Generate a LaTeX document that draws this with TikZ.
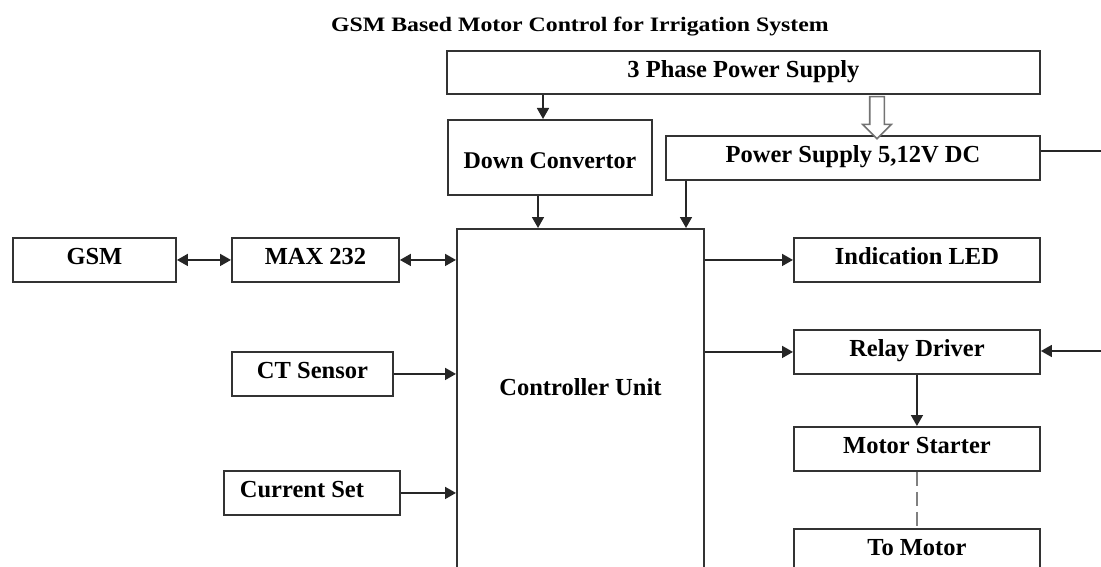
\documentclass[tikz,border=0pt]{standalone}
\usepackage{fontspec}
\setmainfont{Liberation Serif}
\usetikzlibrary{positioning, arrows.meta, shapes.arrows, calc}

\begin{document}
\begin{tikzpicture}[
    x=1pt, y=-1pt,
    every node/.style={font=\fontsize{24.5}{28}\selectfont\bfseries},
    blk/.style={draw=black!80, line width=1.9pt, minimum height=44pt, inner sep=0pt, text height=16pt, text depth=6pt, anchor=north west},
    arrow/.style={-{Triangle[length=11pt, width=12pt]}, line width=1.7pt, black!85},
    darrow/.style={{Triangle[length=11pt, width=12pt]}-{Triangle[length=11pt, width=12pt]}, line width=1.7pt, black!85},
    wire/.style={line width=1.7pt, black!85},
    hollow/.style={single arrow, draw=black!55, fill=white, line width=1.6pt, shape border rotate=270, minimum height=42pt, inner sep=6.5pt, single arrow head extend=7pt},
  ]
  \useasboundingbox (0,0) rectangle (1101,567);
  \clip (0,0) rectangle (1101,567);

  % ---- Title ----
  \node[font=\fontsize{20.5}{24}\selectfont\bfseries, xscale=1.16] (title) at (580,27) {GSM Based Motor Control for Irrigation System};

  % ---- Supply ----
  \node[blk, minimum width=593pt, minimum height=43pt] (ph3) at (446,50) {3 Phase Power Supply};
  \node[blk, minimum width=204pt, minimum height=75pt, font=\fontsize{24}{28}\selectfont\bfseries] (down) at (447,119) {\raisebox{-6pt}{Down Convertor}};
  \node[blk, minimum width=374pt] (psu) at (665,135) {Power Supply 5,12V DC};
  \node[hollow] (conv) at (877,114) {};

  % ---- Controller ----
  \node[blk, minimum width=247pt, minimum height=372pt] (ctrl) at (456,228) {};
  \node (ctrltxt) at ($(ctrl.north)+(0,159)$) {Controller Unit};

  % ---- Inputs ----
  \node[blk, minimum width=163pt] (gsm) at (12,237) {GSM};
  \node[blk, minimum width=167pt] (max) at (231,237) {MAX 232};
  \node[blk, minimum width=161pt] (ct) at (231,351) {CT Sensor};
  \node[blk, minimum width=176pt] (cset) at (223,470) {\hspace*{-20pt}Current Set};

  % ---- Outputs ----
  \node[blk, minimum width=246pt] (led) at (793,237) {Indication LED};
  \node[blk, minimum width=246pt] (relay) at (793,329) {Relay Driver};
  \node[blk, minimum width=246pt] (mstart) at (793,426) {Motor Starter};
  \node[blk, minimum width=246pt] (tomotor) at (793,528) {To Motor};

  % ---- Tap points ----
  \coordinate (dntap) at (543,119);
  \coordinate (dnout) at (538,194);
  \coordinate (psout) at (686,179);
  \coordinate (pwrout) at (1101,151);
  \coordinate (relin) at (1101,351);

  % ---- Arrows ----
  \draw[arrow] (ph3.south -| dntap) -- (dntap);
  \draw[arrow] (down.south -| dnout) -- (ctrl.north -| dnout);
  \draw[arrow] (psu.south -| psout) -- (ctrl.north -| psout);
  \draw[wire] (psu.east |- pwrout) -- (pwrout);
  \draw[darrow] (gsm) -- (max);
  \draw[darrow] (max) -- (max -| ctrl.west);
  \draw[arrow] (ct) -- (ct -| ctrl.west);
  \draw[arrow] (cset) -- (cset -| ctrl.west);
  \draw[arrow] (ctrl.east |- led) -- (led);
  \draw[arrow] (ctrl.east |- relay) -- (relay);
  \draw[arrow] (relin) -- (relay.east |- relin);
  \draw[arrow] (relay) -- (mstart);
  \draw[wire, gray, dash pattern=on 14pt off 6pt] (mstart) -- (tomotor);

\end{tikzpicture}
\end{document}
